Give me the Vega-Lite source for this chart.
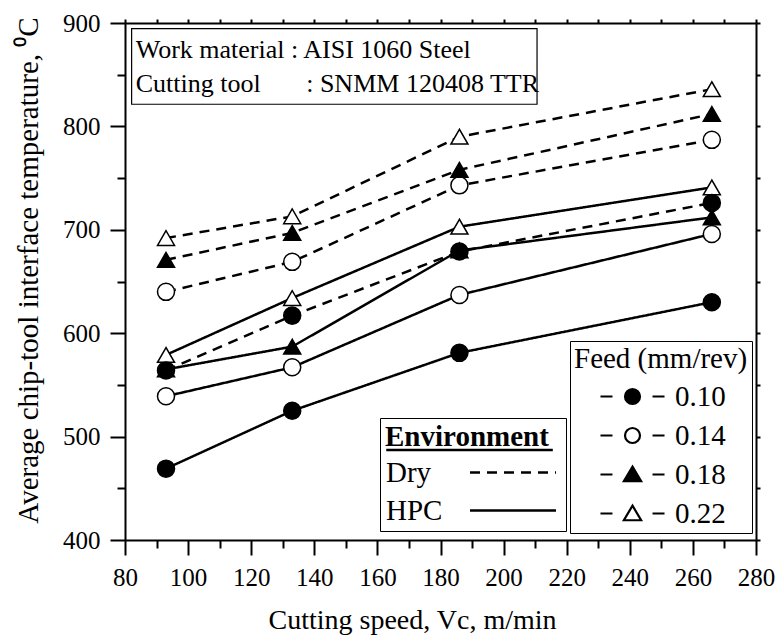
{
  "$schema": "https://vega.github.io/schema/vega-lite/v6.json",
  "width": 631,
  "height": 517,
  "autosize": {"type": "none"},
  "padding": {"left": 125, "top": 23, "right": 21, "bottom": 100},
  "background": "white",
  "config": {
    "font": "Liberation Serif",
    "view": {"stroke": null},
    "axis": {"grid": false, "labelColor": "black", "titleColor": "black", "domainColor": "black", "tickColor": "black", "domainWidth": 2, "tickWidth": 2}
  },
  "data": {
    "values": [
      {"speed": 93, "temp": 469, "feed": "0.10", "env": "HPC"},
      {"speed": 133, "temp": 525, "feed": "0.10", "env": "HPC"},
      {"speed": 186, "temp": 581, "feed": "0.10", "env": "HPC"},
      {"speed": 266, "temp": 630, "feed": "0.10", "env": "HPC"},
      {"speed": 93, "temp": 539, "feed": "0.14", "env": "HPC"},
      {"speed": 133, "temp": 567, "feed": "0.14", "env": "HPC"},
      {"speed": 186, "temp": 637, "feed": "0.14", "env": "HPC"},
      {"speed": 266, "temp": 696, "feed": "0.14", "env": "HPC"},
      {"speed": 93, "temp": 565, "feed": "0.18", "env": "HPC"},
      {"speed": 133, "temp": 587, "feed": "0.18", "env": "HPC"},
      {"speed": 186, "temp": 680, "feed": "0.18", "env": "HPC"},
      {"speed": 266, "temp": 712, "feed": "0.18", "env": "HPC"},
      {"speed": 93, "temp": 579, "feed": "0.22", "env": "HPC"},
      {"speed": 133, "temp": 634, "feed": "0.22", "env": "HPC"},
      {"speed": 186, "temp": 703, "feed": "0.22", "env": "HPC"},
      {"speed": 266, "temp": 741, "feed": "0.22", "env": "HPC"},
      {"speed": 93, "temp": 564, "feed": "0.10", "env": "Dry"},
      {"speed": 133, "temp": 617, "feed": "0.10", "env": "Dry"},
      {"speed": 186, "temp": 679, "feed": "0.10", "env": "Dry"},
      {"speed": 266, "temp": 726, "feed": "0.10", "env": "Dry"},
      {"speed": 93, "temp": 640, "feed": "0.14", "env": "Dry"},
      {"speed": 133, "temp": 669, "feed": "0.14", "env": "Dry"},
      {"speed": 186, "temp": 743, "feed": "0.14", "env": "Dry"},
      {"speed": 266, "temp": 787, "feed": "0.14", "env": "Dry"},
      {"speed": 93, "temp": 671, "feed": "0.18", "env": "Dry"},
      {"speed": 133, "temp": 697, "feed": "0.18", "env": "Dry"},
      {"speed": 186, "temp": 758, "feed": "0.18", "env": "Dry"},
      {"speed": 266, "temp": 812, "feed": "0.18", "env": "Dry"},
      {"speed": 93, "temp": 692, "feed": "0.22", "env": "Dry"},
      {"speed": 133, "temp": 713, "feed": "0.22", "env": "Dry"},
      {"speed": 186, "temp": 790, "feed": "0.22", "env": "Dry"},
      {"speed": 266, "temp": 836, "feed": "0.22", "env": "Dry"}
    ]
  },
  "layer": [
    {
      "data": {"values": [{}]},
      "mark": {"type": "rect", "fill": "white", "stroke": "black", "strokeWidth": 1.2},
      "encoding": {
        "x": {"datum": 82.1, "type": "quantitative", "axis": null},
        "x2": {"datum": 210.6},
        "y": {"datum": 894.6, "type": "quantitative", "axis": null},
        "y2": {"datum": 821.4}
      }
    },
    {
      "data": {"values": [{}]},
      "mark": {"type": "text", "align": "left", "baseline": "alphabetic", "fontSize": 26, "lineHeight": 33.4, "color": "black",
        "text": ["Work material : AISI 1060 Steel", "Cutting tool\u00a0\u00a0\u00a0\u00a0\u00a0\u00a0\u00a0: SNMM 120408 TTR"]},
      "encoding": {
        "x": {"datum": 83.4, "type": "quantitative", "axis": null},
        "y": {"datum": 865.9, "type": "quantitative", "axis": null}
      }
    },
    {
      "mark": {"type": "line", "color": "black", "strokeWidth": 2.5},
      "encoding": {
        "x": {"field": "speed", "type": "quantitative", "scale": {"domain": [80, 280], "nice": false, "zero": false},
          "axis": {"orient": "bottom", "values": [80,90,100,110,120,130,140,150,160,170,180,190,200,210,220,230,240,250,260,270,280],
            "tickSize": {"expr": "datum.value % 20 === 0 ? 15 : 8"},
            "labelExpr": "datum.value % 20 === 0 ? datum.label : ''",
            "labelFontSize": 25, "labelPadding": 10, "labelFlush": false, "labelOverlap": false, "labelBound": false,
            "title": "Cutting speed, Vc, m/min", "titleFontSize": 28, "titleFontWeight": "normal",
            "titleX": 287, "titleY": 88, "titleBaseline": "alphabetic", "titleAlign": "center"}},
        "y": {"field": "temp", "type": "quantitative", "scale": {"domain": [400, 900], "nice": false, "zero": false},
          "axis": {"orient": "left", "values": [400,450,500,550,600,650,700,750,800,850,900],
            "tickSize": {"expr": "datum.value % 100 === 0 ? 15 : 8"},
            "labelExpr": "datum.value % 100 === 0 ? datum.label : ''",
            "labelFontSize": 25, "labelPadding": 10, "labelFlush": false, "labelOverlap": false, "labelBound": false,
            "title": "Average chip-tool interface temperature, \u2070C", "titleFontSize": 29, "titleFontWeight": "normal",
            "titleAngle": -90, "titleX": -88, "titleY": 247, "titleBaseline": "alphabetic", "titleAlign": "center"}},
        "detail": {"field": "feed"},
        "strokeDash": {"field": "env", "type": "nominal",
          "scale": {"domain": ["Dry", "HPC"], "range": [[10, 7], [1, 0]]},
          "legend": {"title": "Environment", "orient": "none", "legendX": 255, "legendY": 395,
            "strokeColor": "black", "padding": 5, "titleFontSize": 29, "titleFontWeight": "bold", "titleColor": "black",
            "titlePadding": 6, "titleLimit": 400, "labelFontSize": 29, "labelColor": "black", "labelLimit": 200,
            "symbolType": "M-4.3,0H4.3", "symbolSize": 400, "symbolStrokeWidth": 2.5, "symbolStrokeColor": "black",
            "rowPadding": 8,
            "encode": {
              "labels": {"update": {"x": {"value": 1}}},
              "symbols": {"update": {"x": {"value": 128}, "strokeDash": {"signal": "datum.value === 'Dry' ? [6, 3] : [1, 0]"}}}
            }}}
      }
    },
    {
      "data": {"values": [{}]},
      "mark": {"type": "rule", "strokeWidth": 2.5, "color": "black"},
      "encoding": {
        "x": {"datum": 162.8, "type": "quantitative", "axis": null},
        "x2": {"datum": 215.6},
        "y": {"datum": 487, "type": "quantitative", "axis": null}
      }
    },
    {
      "mark": {"type": "point", "filled": true, "size": 290, "stroke": "black", "strokeWidth": 1.5, "opacity": 1},
      "encoding": {
        "x": {"field": "speed", "type": "quantitative",
          "axis": {"orient": "top", "values": [80,90,100,110,120,130,140,150,160,170,180,190,200,210,220,230,240,250,260,270,280],
            "tickSize": 4, "labels": false, "title": null}},
        "y": {"field": "temp", "type": "quantitative",
          "axis": {"orient": "right", "values": [400,450,500,550,600,650,700,750,800,850,900],
            "tickSize": 4, "labels": false, "title": null}},
        "shape": {"field": "feed", "type": "nominal",
          "scale": {"domain": ["0.10", "0.14", "0.18", "0.22"], "range": ["circle", "circle", "triangle-up", "triangle-up"]},
          "legend": null},
        "fill": {"field": "feed", "type": "nominal",
          "scale": {"domain": ["0.10", "0.14", "0.18", "0.22"], "range": ["black", "white", "black", "white"]},
          "legend": null}
      }
    },
    {
      "transform": [{"filter": "false"}],
      "mark": {"type": "point", "filled": true, "size": 225, "stroke": "black", "strokeWidth": 2, "opacity": 1},
      "encoding": {
        "shape": {"field": "feed", "type": "nominal",
          "scale": {"domain": ["0.10", "0.14", "0.18", "0.22"],
            "range": [
              "M-4.27,0H-2.67M2.67,0H4.27M-1,0A1,1,0,1,0,1,0A1,1,0,1,0,-1,0Z",
              "M-4.27,0H-2.67M2.67,0H4.27M-1,0A1,1,0,1,0,1,0A1,1,0,1,0,-1,0Z",
              "M-4.27,0H-2.67M2.67,0H4.27M0,-1.05L1.15,0.9L-1.15,0.9Z",
              "M-4.27,0H-2.67M2.67,0H4.27M0,-1.05L1.15,0.9L-1.15,0.9Z"
            ]},
          "legend": {"title": "Feed (mm/rev)", "orient": "none", "legendX": 445, "legendY": 318,
            "strokeColor": "black", "padding": 4, "titleFontSize": 29, "titleFontWeight": "normal", "titleColor": "black",
            "titlePadding": 8, "titleLimit": 400, "labelFontSize": 29, "labelColor": "black",
            "symbolSize": 225, "symbolStrokeWidth": 2, "symbolStrokeColor": "black", "symbolOpacity": 1,
            "symbolOffset": 44, "labelOffset": 28, "rowPadding": 9,
            "encode": {"symbols": {"update": {"stroke": {"value": "black"}, "strokeWidth": {"value": 2.2}, "opacity": {"value": 1}}}}}},
        "fill": {"field": "feed", "type": "nominal",
          "scale": {"domain": ["0.10", "0.14", "0.18", "0.22"], "range": ["black", "white", "black", "white"]},
          "legend": {"title": "Feed (mm/rev)", "orient": "none", "legendX": 445, "legendY": 318,
            "strokeColor": "black", "padding": 4, "titleFontSize": 29, "titleFontWeight": "normal", "titleColor": "black",
            "titlePadding": 8, "titleLimit": 400, "labelFontSize": 29, "labelColor": "black",
            "symbolSize": 225, "symbolStrokeWidth": 2, "symbolStrokeColor": "black", "symbolOpacity": 1,
            "symbolOffset": 44, "labelOffset": 28, "rowPadding": 9,
            "encode": {"symbols": {"update": {"stroke": {"value": "black"}, "strokeWidth": {"value": 2.2}, "opacity": {"value": 1}}}}}}
      }
    }
  ],
  "resolve": {
    "scale": {"shape": "independent", "fill": "independent"},
    "axis": {"x": "independent", "y": "independent"}
  }
}
